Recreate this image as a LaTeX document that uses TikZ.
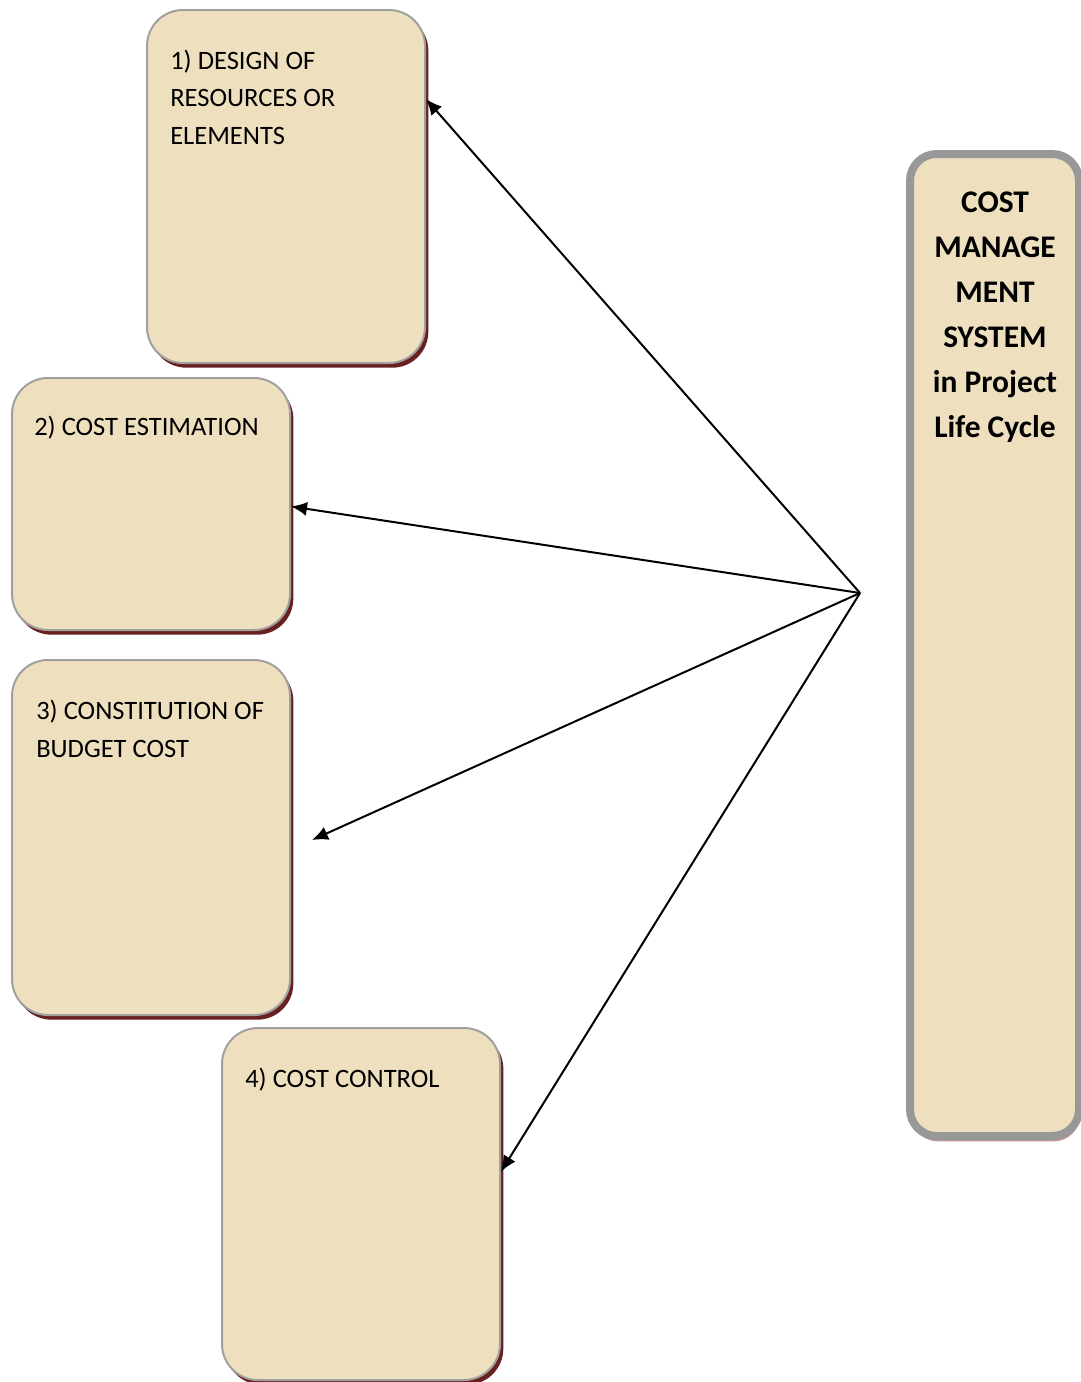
\documentclass[tikz,border=0pt]{standalone}
\usepackage{fontspec}
\setmainfont{Carlito}
\usetikzlibrary{arrows.meta,calc,shadows}

\definecolor{parch}{RGB}{238,224,191}
\definecolor{rim}{RGB}{160,160,160}
\definecolor{shadowred}{RGB}{105,32,32}
\definecolor{shadowpink}{RGB}{192,146,146}

\tikzset{
  stage/.style={rectangle, rounded corners=27pt, inner sep=0pt,
    fill=parch, draw=rim, line width=1.5pt,
    drop shadow={shadow xshift=2.5pt, shadow yshift=-3.5pt, fill=shadowred, opacity=1}},
  pillar/.style={rectangle, rounded corners=20pt, inner sep=0pt,
    fill=parch, draw=rim!95!black, line width=6pt,
    drop shadow={shadow xshift=1pt, shadow yshift=-4pt, fill=shadowpink, opacity=1}},
  stagetext/.style={anchor=base west, inner sep=0pt,
    font=\fontsize{19.9}{24}\selectfont},
  pillartext/.style={anchor=base, inner sep=0pt,
    font=\fontsize{23.6}{28}\selectfont\bfseries},
  link/.style={line width=1.5pt, -{Latex[length=12pt,width=10.5pt]}}
}

\begin{document}
\begin{tikzpicture}[x=0.75pt,y=-0.75pt]
  \clip (0,0) rectangle (1081,1382);
  \useasboundingbox (0,0) rectangle (1081,1382);

  % four stage boxes
  \node[stage, minimum width=208.5pt, minimum height=264.75pt] (b1) at (286,186.5) {};
  \node[stage, minimum width=208.5pt, minimum height=189pt]    (b2) at (151,504)   {};
  \node[stage, minimum width=208.5pt, minimum height=266.25pt] (b3) at (151,837.5) {};
  \node[stage, minimum width=208.5pt, minimum height=264pt]    (b4) at (361,1204)  {};

  % tall system column, running past the right edge
  \node[pillar, minimum width=126.75pt, minimum height=736.5pt] (sys) at (994.5,645) {};

  % stage labels
  \node[stagetext] (t1a) at (170,69)   {1) DESIGN OF};
  \node[stagetext] (t1b) at (170,106)  {RESOURCES OR};
  \node[stagetext] (t1c) at (170,144)  {ELEMENTS};
  \node[stagetext] (t2a) at (34,435)   {2) COST ESTIMATION};
  \node[stagetext] (t3a) at (36,719)   {3) CONSTITUTION OF};
  \node[stagetext] (t3b) at (36,757)   {BUDGET COST};
  \node[stagetext] (t4a) at (245,1087) {4) COST CONTROL};

  % column label
  \node[pillartext] (s1) at (995,212) {COST};
  \node[pillartext] (s2) at (995,257) {MANAGE};
  \node[pillartext] (s3) at (995,302) {MENT};
  \node[pillartext] (s4) at (995,347) {SYSTEM};
  \node[pillartext] (s5) at (995,392) {in Project};
  \node[pillartext] (s6) at (995,437) {Life Cycle};

  % fan of arrows from a common point
  \coordinate (hub) at (860,593);
  \coordinate (end3) at (312,840);
  \draw[link] (hub) -- (b1.32);
  \draw[link] (hub) -- (b2.-1);
  \draw[link] (hub) -- (end3);
  \draw[link] (hub) -- (b4.13);
\end{tikzpicture}
\end{document}
